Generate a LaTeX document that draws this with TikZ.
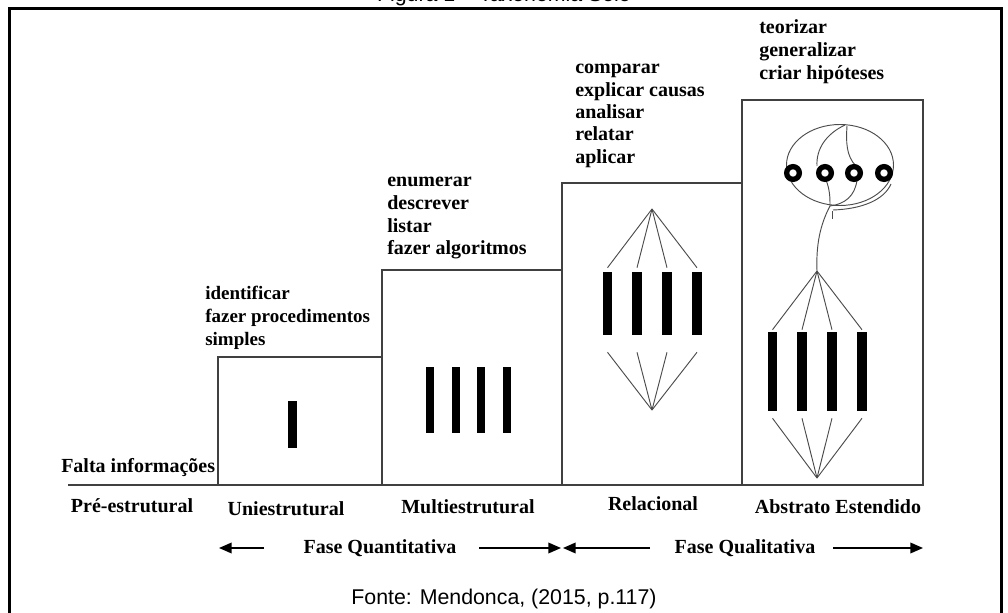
\documentclass[tikz,border=0pt]{standalone}
\usepackage{fontspec}
\setmainfont{Liberation Serif}
\newfontfamily\capfont{Liberation Sans}
\usetikzlibrary{arrows.meta,calc}

\begin{document}
\begin{tikzpicture}[x=0.75pt,y=-0.75pt,
  verb/.style={font=\fontsize{15pt}{17pt}\selectfont\bfseries, inner sep=0pt, anchor=base west},
  smallverb/.style={verb, font=\fontsize{14.25pt}{17pt}\selectfont\bfseries},
  level/.style={font=\fontsize{15pt}{17pt}\selectfont\bfseries, inner sep=0pt, anchor=base},
  caption/.style={font=\capfont\fontsize{16pt}{18pt}\selectfont, inner sep=0pt, anchor=base},
  stepline/.style={draw=black!75, line width=0.9pt},
  fan/.style={draw=black!70, line width=0.7pt},
  bar/.style={fill=black, draw=none, inner sep=0pt},
  ring/.style={draw=black, fill=white, line width=4pt, circle, inner sep=0pt, minimum size=9.5pt},
  phase/.style={draw=black, line width=1.1pt, -{Triangle[length=9.5pt,width=8pt]}}]

\clip (0,0) rectangle (1008,613);
\fill[white] (0,0) rectangle (1008,613);

% caption above and outer frame
\node[caption] (title) at (504,2) {Figura 1 – Taxonomia Solo};
\draw[line width=2.4pt] (9.5,8.5) rectangle (1001.5,640);

% staircase of levels
\draw[stepline] (68,485) -- (923,485);
\draw[stepline] (218,357) rectangle (382,485);
\draw[stepline] (382,270) rectangle (562,485);
\draw[stepline] (562,183) rectangle (742,485);
\draw[stepline] (742,100) rectangle (923,485);

% uniestrutural
\node[bar, minimum width=6.75pt, minimum height=35.25pt] (u1) at (292.5,424.5) {};

% multiestrutural
\foreach \i/\x in {1/430,2/456,3/481,4/506.5}
  \node[bar, minimum width=6pt, minimum height=49.5pt] (m\i) at (\x,400) {};

% relacional
\coordinate (rtop) at (652,209);
\coordinate (rbot) at (652,410);
\foreach \i/\x in {1/607.5,2/637,3/667,4/697}{
  \node[bar, minimum width=7.125pt, minimum height=47.25pt] (r\i) at (\x,303.5) {};
  \draw[fan] (rtop) -- ($(r\i.north)+(0,-4)$);
  \draw[fan] ($(r\i.south)+(0,17)$) -- (rbot);
}

% abstrato estendido
\coordinate (atop) at (817,271);
\coordinate (abot) at (817,478);
\foreach \i/\x in {1/772.5,2/802,3/832,4/862}{
  \node[bar, minimum width=7.125pt, minimum height=59.25pt] (a\i) at (\x,371.5) {};
  \draw[fan] (atop) -- ($(a\i.north)+(0,-2)$);
  \draw[fan] ($(a\i.south)+(0,7)$) -- (abot);
}

% enclosing ellipse with linked elements
\draw[fan] (840,165) ellipse [x radius=53.5, y radius=40.5];
\coordinate (jn) at (830,206);
\draw[fan] (845,125) .. controls (826,134) and (816,149) .. (817,166);
\draw[fan] (847,126) .. controls (846,141) and (846,156) .. (856,166);
\draw[fan] (826,180) .. controls (830,190) and (830,198) .. (jn);
\draw[fan] (857,180) .. controls (855,196) and (845,204) .. (jn);
\draw[fan] (833,210) .. controls (862,209) and (884,200) .. (891,184);
\draw[fan] (832,211) -- (832,219);
\draw[fan] (jn) .. controls (820,225) and (816,245) .. (atop);
\foreach \i/\x in {1/793,2/825,3/854,4/884}
  \node[ring] (c\i) at (\x,173) {};

% verbs of each level
\node[verb] (v-teo) at (759,33.5) {teorizar};
\node[verb] (v-gen) at (759,56.5) {generalizar};
\node[verb] (v-cri) at (759,79.5) {criar hipóteses};
\node[verb] (v-com) at (575,74) {comparar};
\node[verb] (v-exp) at (575,96.5) {explicar causas};
\node[verb] (v-ana) at (575,118.5) {analisar};
\node[verb] (v-rel) at (575,141) {relatar};
\node[verb] (v-apl) at (575,163.5) {aplicar};
\node[verb] (v-enu) at (387,186.5) {enumerar};
\node[verb] (v-des) at (387,209.5) {descrever};
\node[verb] (v-lis) at (387,232.5) {listar};
\node[verb] (v-alg) at (387,254.5) {fazer algoritmos};
\node[smallverb] (v-ide) at (205,299.5) {identificar};
\node[smallverb] (v-pro) at (205,322.5) {fazer procedimentos};
\node[smallverb] (v-sim) at (205,345.5) {simples};
\node[verb] (v-fal) at (61,472) {Falta informações};

% level names
\node[level] (l-pre) at (132,512) {Pré-estrutural};
\node[level] (l-uni) at (286,515) {Uniestrutural};
\node[level] (l-mul) at (468,513) {Multiestrutural};
\node[level] (l-rel) at (653,510) {Relacional};
\node[level] (l-abs) at (838,513) {Abstrato Estendido};

% phases
\node[level] (p-qt) at (380,553) {Fase Quantitativa};
\node[level] (p-ql) at (745,553) {Fase Qualitativa};
\coordinate (qt-l1) at (264,548); \coordinate (qt-l2) at (219,548);
\coordinate (qt-r1) at (479,548); \coordinate (qt-r2) at (561,548);
\coordinate (ql-l1) at (650,548); \coordinate (ql-l2) at (563,548);
\coordinate (ql-r1) at (833,548); \coordinate (ql-r2) at (923,548);
\draw[phase] (qt-l1) -- (qt-l2);
\draw[phase] (qt-r1) -- (qt-r2);
\draw[phase] (ql-l1) -- (ql-l2);
\draw[phase] (ql-r1) -- (ql-r2);

% source
\node[caption] (src) at (504,604.5) {Fonte: Mendonca, (2015, p.117)};
\end{tikzpicture}
\end{document}
